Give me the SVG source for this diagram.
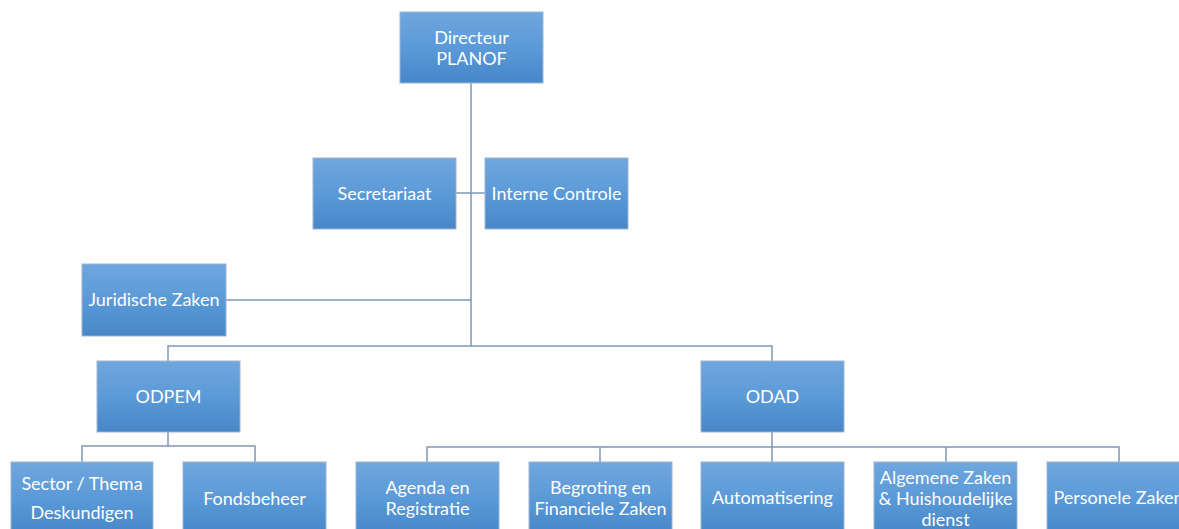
<svg xmlns="http://www.w3.org/2000/svg" width="1179" height="529" viewBox="0 0 1179 529">
<defs>
<linearGradient id="g" x1="0" y1="0" x2="0" y2="1">
<stop offset="0" stop-color="#70a6dd"/>
<stop offset="0.5" stop-color="#5b9ad8"/>
<stop offset="1" stop-color="#4787c8"/>
</linearGradient>
<style>
.box{fill:url(#g);stroke:#9db5d0;stroke-width:1}
.t{font-family:Lato,"Liberation Sans",sans-serif;font-size:18px;fill:#ffffff;text-anchor:middle;dominant-baseline:central}
.c{fill:none;stroke:#7f98b6;stroke-width:1.5}
</style>
</defs>
<rect width="1179" height="529" fill="#ffffff"/>
<g id="connectors">
<path class="c" d="M471 83V346M456 193H485M226 300H471M168 361V346H772V361"/>
<path class="c" d="M168 432V446M82 462V446H255V462"/>
<path class="c" d="M772 432V447M427 462V447H1119V462M600 447V462M772 447V462M946 447V462"/>
</g>
<g id="directeur"><rect class="box" x="400" y="12" width="143" height="71"/><text class="t" x="471.5" y="36.5">Directeur</text><text class="t" x="471.5" y="57.5">PLANOF</text></g>
<g id="secretariaat"><rect class="box" x="313" y="158" width="143" height="71"/><text class="t" x="384.5" y="192.5">Secretariaat</text></g>
<g id="interne-controle"><rect class="box" x="485" y="158" width="143" height="71"/><text class="t" x="556.5" y="192.5">Interne Controle</text></g>
<g id="juridische-zaken"><rect class="box" x="82" y="264" width="144" height="72"/><text class="t" x="154" y="298.5">Juridische Zaken</text></g>
<g id="odpem"><rect class="box" x="97" y="361" width="143" height="71"/><text class="t" x="168.5" y="395.5">ODPEM</text></g>
<g id="odad"><rect class="box" x="701" y="361" width="143" height="71"/><text class="t" x="772.5" y="395.5">ODAD</text></g>
<g id="sector-thema"><rect class="box" x="11" y="462" width="142" height="72"/><text class="t" x="82" y="482.5">Sector / Thema</text><text class="t" x="82" y="511.5">Deskundigen</text></g>
<g id="fondsbeheer"><rect class="box" x="183" y="462" width="143" height="72"/><text class="t" x="254.5" y="497.5">Fondsbeheer</text></g>
<g id="agenda"><rect class="box" x="356" y="462" width="143" height="72"/><text class="t" x="427.5" y="486.5">Agenda en</text><text class="t" x="427.5" y="507.5">Registratie</text></g>
<g id="begroting"><rect class="box" x="529" y="462" width="143" height="72"/><text class="t" x="600.5" y="486.5">Begroting en</text><text class="t" x="600.5" y="507.5">Financiele Zaken</text></g>
<g id="automatisering"><rect class="box" x="701" y="462" width="143" height="72"/><text class="t" x="772.5" y="496.5">Automatisering</text></g>
<g id="algemene-zaken"><rect class="box" x="874" y="462" width="143" height="72"/><text class="t" x="945.5" y="476.5">Algemene Zaken</text><text class="t" x="945.5" y="497.5">&amp; Huishoudelijke</text><text class="t" x="945.5" y="518.5">dienst</text></g>
<g id="personele-zaken"><rect class="box" x="1047" y="462" width="143" height="72"/><text class="t" x="1118.5" y="496.5">Personele Zaken</text></g>
</svg>
